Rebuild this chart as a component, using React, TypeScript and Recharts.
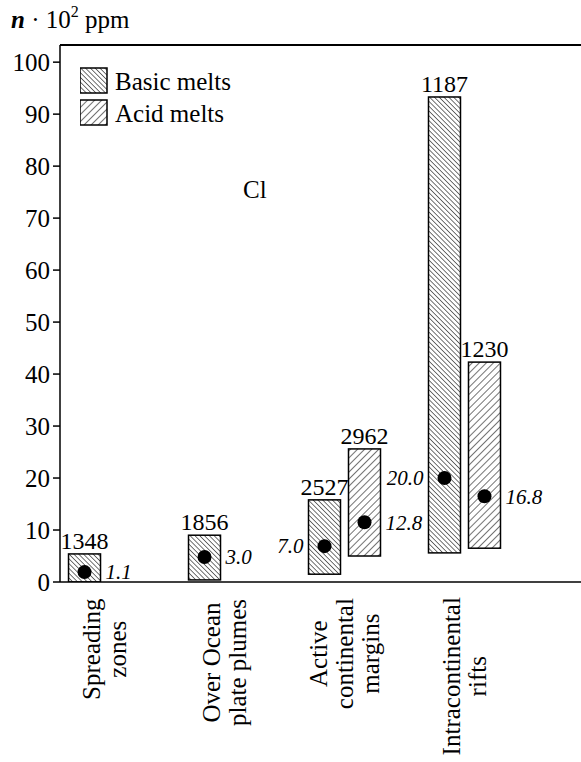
import React from 'react';
import { ComposedChart, Bar, XAxis, YAxis, ReferenceLine, Legend } from 'recharts';

const FONT = "'Liberation Serif', 'Times New Roman', serif";

// tectonic settings, one label line per entry
const settingLines = [
  ['Spreading', 'zones'],
  ['Over Ocean', 'plate plumes'],
  ['Active', 'continental', 'margins'],
  ['Intracontinental', 'rifts'],
];

// basic melts: Cl range (n·10² ppm), mean point, printed mean, number of analyses
const basicLow = [0, 0.4, 1.5, 5.6];
const basicHigh = [5.4, 9.0, 15.8, 93.3];
const basicMean = [1.9, 4.8, 6.9, 20.0];
const basicMeanText = ['1.1', '3.0', '7.0', '20.0'];
const basicCount = [1348, 1856, 2527, 1187];

// acid melts (no data for the first two settings)
const acidLow = [null, null, 5.0, 6.5];
const acidHigh = [null, null, 25.6, 42.3];
const acidMean = [null, null, 11.5, 16.5];
const acidMeanText = [null, null, '12.8', '16.8'];
const acidCount = [null, null, 2962, 1230];

const yTicks = [0, 10, 20, 30, 40, 50, 60, 70, 80, 90, 100];
const yMax = 103.3;
const xDomain = [-0.371, 3.971];

const legendItems = [
  { kind: 'basic', label: 'Basic melts' },
  { kind: 'acid', label: 'Acid melts' },
];

const hatch = {
  basic: { gap: 3.4, angle: -45 },
  acid: { gap: 5, angle: 45 },
};

const data = settingLines.map((lines, i) => ({
  idx: i,
  name: lines.join(' '),
  basic: basicLow[i] == null ? null : [basicLow[i], basicHigh[i]],
  basicMean: basicMean[i],
  basicMeanText: basicMeanText[i],
  basicCount: basicCount[i],
  acid: acidLow[i] == null ? null : [acidLow[i], acidHigh[i]],
  acidMean: acidMean[i],
  acidMeanText: acidMeanText[i],
  acidCount: acidCount[i],
}));

// rough Times-like advance widths, in em, to centre the rotated labels
function textEm(s: string) {
  let w = 0;
  for (const c of s) {
    if (c === ' ') w += 0.25;
    else if (c === 'I' || 'iljtfr'.includes(c)) w += 0.29;
    else if ('mw'.includes(c)) w += 0.75;
    else if (/[A-Z]/.test(c)) w += 0.7;
    else w += 0.47;
  }
  return w;
}

function HatchPattern({ id, kind }: { id: string; kind: 'basic' | 'acid' }) {
  const { gap, angle } = hatch[kind];
  return (
    <pattern id={id} patternUnits="userSpaceOnUse" width={gap} height={gap} patternTransform={`rotate(${angle})`}>
      <rect width={gap} height={gap} fill="#fff" />
      <line x1={0} y1={0} x2={0} y2={gap} stroke="#000" strokeWidth={1.1} />
    </pattern>
  );
}

function meltShape(kind: 'basic' | 'acid') {
  return (props: any) => {
    const { x, width, payload } = props;
    const range = payload?.[kind];
    if (!range) return <g />;
    const top = Math.min(props.y, props.y + props.height);
    const h = Math.abs(props.height);
    const [lo, hi] = range;
    const mean = payload[kind + 'Mean'];
    const dotY = top + (h * (hi - mean)) / (hi - lo);
    const onLeft = kind === 'basic' && payload.acid != null;
    return (
      <g>
        <rect x={x} y={top} width={width} height={h} fill={`url(#hatch-${kind})`} stroke="#000" strokeWidth={1.5} />
        <circle cx={x + width / 2} cy={dotY} r={7} fill="#000" />
        <text
          x={onLeft ? x - 5 : x + width + 5}
          y={dotY}
          dy="0.35em"
          textAnchor={onLeft ? 'end' : 'start'}
          fontStyle="italic"
          fontSize={21}
          fontFamily={FONT}
          fill="#000"
        >
          {payload[kind + 'MeanText']}
        </text>
        <text x={x + width / 2} y={top - 5} textAnchor="middle" fontSize={24} fontFamily={FONT} fill="#000">
          {payload[kind + 'Count']}
        </text>
      </g>
    );
  };
}

const TICK_FONT = 25;

function SettingTick(props: any) {
  const { x, y, payload } = props;
  const lines = settingLines[payload.value] ?? [];
  const longest = Math.max(...lines.map((l) => textEm(l)));
  const cy = y + 8 + (longest * TICK_FONT) / 2;
  const lh = 26;
  return (
    <g transform={`translate(${x},${cy}) rotate(-90)`}>
      {lines.map((l, k) => (
        <text
          key={k}
          x={0}
          y={(k - (lines.length - 1) / 2) * lh}
          dy="0.35em"
          textAnchor="middle"
          fontSize={TICK_FONT}
          fontFamily={FONT}
          fill="#000"
        >
          {l}
        </text>
      ))}
    </g>
  );
}

function LegendBox() {
  return (
    <svg width={200} height={64} style={{ display: 'block' }}>
      <defs>
        <HatchPattern id="legend-basic" kind="basic" />
        <HatchPattern id="legend-acid" kind="acid" />
      </defs>
      {legendItems.map((item, i) => (
        <g key={item.kind} transform={`translate(0,${2 + i * 32})`}>
          <rect x={0} y={0} width={27} height={25} fill={`url(#legend-${item.kind})`} stroke="#000" strokeWidth={1.5} />
          <text x={35} y={22} fontSize={25} fontFamily={FONT} fill="#000">
            {item.label}
          </text>
        </g>
      ))}
    </svg>
  );
}

export default function App() {
  return (
    <div style={{ position: 'absolute', left: 0, top: 0, width: 581, height: 762, background: '#fff' }}>
      <ComposedChart
        width={581}
        height={762}
        data={data}
        barGap={8}
        margin={{ top: 45, right: 0, left: 8, bottom: 10 }}
      >
        <defs>
          <HatchPattern id="hatch-basic" kind="basic" />
          <HatchPattern id="hatch-acid" kind="acid" />
        </defs>
        <XAxis
          type="number"
          dataKey="idx"
          domain={xDomain}
          allowDataOverflow
          ticks={[0, 1, 2, 3]}
          interval={0}
          tickLine={false}
          axisLine={{ stroke: '#000', strokeWidth: 1.5 }}
          tick={<SettingTick />}
          height={170}
        />
        <YAxis
          type="number"
          domain={[0, yMax]}
          allowDataOverflow
          ticks={yTicks}
          interval={0}
          width={52}
          tickSize={7}
          tickMargin={3}
          axisLine={{ stroke: '#000', strokeWidth: 1.5 }}
          tickLine={{ stroke: '#000', strokeWidth: 1.5 }}
          tick={{ fill: '#000', fontSize: 25, fontFamily: FONT }}
        />
        <ReferenceLine y={yMax} stroke="#000" strokeWidth={2} />
        <Legend
          layout="vertical"
          verticalAlign="middle"
          align="center"
          wrapperStyle={{ left: 80, top: 66, width: 200 }}
          content={() => <LegendBox />}
        />
        <Bar dataKey="basic" name="Basic melts" barSize={32} shape={meltShape('basic')} isAnimationActive={false} />
        <Bar dataKey="acid" name="Acid melts" barSize={32} shape={meltShape('acid')} isAnimationActive={false} />
      </ComposedChart>
      <svg width={581} height={220} style={{ position: 'absolute', left: 0, top: 0, pointerEvents: 'none' }}>
        <text x={11} y={28} fontSize={25} fontFamily={FONT} fill="#000">
          <tspan fontWeight="bold" fontStyle="italic">n</tspan>
          <tspan> · 10</tspan>
          <tspan fontSize={16} dy={-11}>2</tspan>
          <tspan dy={11}> ppm</tspan>
        </text>
        <text x={243} y={198} fontSize={25} fontFamily={FONT} fill="#000">
          Cl
        </text>
      </svg>
    </div>
  );
}
